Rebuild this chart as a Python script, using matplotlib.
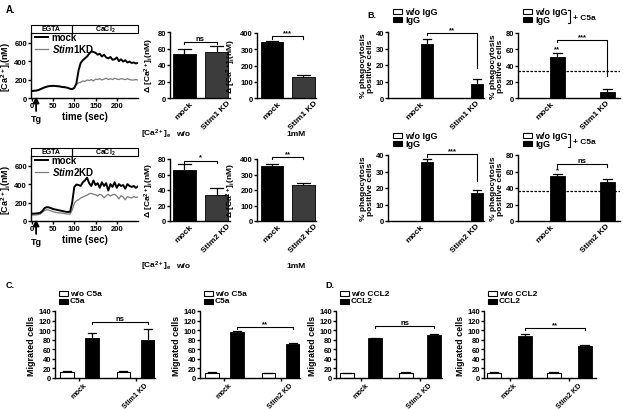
import matplotlib
matplotlib.use('Agg')
import matplotlib.pyplot as plt
from matplotlib.patches import Rectangle
from matplotlib.lines import Line2D
import matplotlib.transforms as mtransforms

# ---------------- data ----------------
t_sec = [0, 5, 10, 15, 20, 25, 30, 35, 40, 45, 50, 55, 60, 65, 70, 75, 80, 85, 90, 95,
         100, 105, 110, 115, 120, 125, 130, 135, 140, 145, 150, 155, 160, 165, 170, 175,
         180, 185, 190, 195, 200, 205, 210, 215, 220, 225, 230, 235, 240, 245, 250]
stim1_mock_trace = [75, 78, 80, 85, 95, 105, 115, 122, 128, 130, 132, 130, 128, 125, 120, 118,
                    115, 110, 100, 95, 110, 160, 300, 380, 410, 430, 450, 480, 505, 500, 490,
                    470, 480, 450, 470, 440, 430, 445, 415, 420, 440, 400, 420, 395, 410, 385,
                    395, 380, 385, 375, 380]
stim1_kd_trace = [80, 82, 82, 88, 98, 108, 118, 125, 128, 132, 135, 133, 130, 130, 125, 122,
                  115, 108, 100, 98, 115, 145, 165, 170, 185, 180, 195, 190, 200, 185, 205,
                  200, 210, 195, 205, 215, 200, 210, 200, 215, 205, 200, 210, 205, 200, 210,
                  200, 195, 195, 200, 195]
stim2_mock_trace = [80, 80, 82, 85, 90, 110, 140, 150, 148, 140, 130, 125, 120, 115, 110, 105,
                    100, 98, 100, 200, 370, 395, 390, 380, 420, 440, 470, 410, 380, 440, 390,
                    410, 360, 420, 380, 410, 330, 400, 370, 420, 360, 400, 380, 390, 350, 400,
                    380, 370, 380, 360, 375]
stim2_kd_trace = [65, 65, 66, 68, 75, 95, 115, 122, 118, 110, 100, 95, 90, 88, 85, 82, 78, 75,
                  75, 120, 190, 220, 230, 250, 260, 270, 280, 295, 300, 290, 285, 270, 290, 280,
                  250, 275, 290, 270, 285, 290, 270, 240, 275, 260, 230, 265, 255, 250, 265,
                  255, 260]

groups_stim1 = ['mock', 'Stim1 KD']
groups_stim2 = ['mock', 'Stim2 KD']

a1_wo = [53, 56];      a1_wo_err = [7, 7]
a1_1mm = [343, 128];   a1_1mm_err = [6, 15]
a2_wo = [66, 34];      a2_wo_err = [7, 8.5]
a2_1mm = [352, 230];   a2_1mm_err = [15, 15]

b1_woigg = [0, 0];     b1_igg = [33, 8.5];     b1_igg_err = [2.5, 3]
b1c_woigg = [0, 0];    b1c_igg = [51, 8];      b1c_igg_err = [5, 3];   b1c_ref = 33
b2_woigg = [0, 0];     b2_igg = [36, 17];      b2_igg_err = [1.5, 2]
b2c_woigg = [0, 0];    b2c_igg = [55, 47];     b2c_igg_err = [2.5, 4]; b2c_ref = 36

c1_wo = [13, 13];  c1_wo_err = [1, 1];  c1_c5a = [83, 80];  c1_c5a_err = [11, 22]
c2_wo = [11, 10];  c2_wo_err = [1, 1];  c2_c5a = [97, 72];  c2_c5a_err = [2, 2]
d1_wo = [10, 10];  d1_wo_err = [1, 2];  d1_ccl2 = [83, 90]; d1_ccl2_err = [1, 2]
d2_wo = [10, 10];  d2_wo_err = [2, 3];  d2_ccl2 = [87, 67]; d2_ccl2_err = [4, 2]

# ---------------- style ----------------
W, H = 623, 410
plt.rcParams.update({
    'font.family': ['Liberation Sans', 'DejaVu Sans'],
    'font.weight': 'bold',
    'axes.labelweight': 'bold',
    'mathtext.fontset': 'custom',
    'mathtext.rm': 'Liberation Sans:bold',
    'mathtext.it': 'Liberation Sans:italic:bold',
    'mathtext.bf': 'Liberation Sans:bold',
    'axes.linewidth': 1.0,
    'xtick.major.width': 1.0, 'ytick.major.width': 1.0,
    'xtick.major.size': 2.0, 'ytick.major.size': 2.0,
    'xtick.labelsize': 5.5, 'ytick.labelsize': 5.5,
    'xtick.major.pad': 1.0, 'ytick.major.pad': 0.8,
})
fig = plt.figure(figsize=(W / 100, H / 100), dpi=100)


def add_ax(l, t, r, b):
    ax = fig.add_axes([l / W, 1 - b / H, (r - l) / W, (b - t) / H])
    ax.spines['top'].set_visible(False)
    ax.spines['right'].set_visible(False)
    ax.patch.set_alpha(0)
    return ax


def ftext(x, y, s, **kw):
    kw.setdefault('va', 'center')
    kw.setdefault('ha', 'left')
    fig.text(x / W, 1 - y / H, s, **kw)


def fbox(x, y, w, h, fc):
    fig.add_artist(Rectangle((x / W, 1 - (y + h) / H), w / W, h / H, fc=fc, ec='black',
                             lw=0.8, transform=fig.transFigure))


def fline(xs, ys, lw=0.8):
    fig.add_artist(Line2D([x / W for x in xs], [1 - y / H for y in ys],
                          transform=fig.transFigure, color='black', lw=lw))


def errs(ax, xs, vals, err, hw, lw=0.9):
    for x, v, e in zip(xs, vals, err):
        ax.plot([x, x], [v, v + e], color='black', lw=lw, solid_capstyle='butt', zorder=3)
        ax.plot([x - hw, x + hw], [v + e, v + e], color='black', lw=lw, zorder=3)


def bracket(ax, x1, x2, y, yl, yr, label, fs=5.5):
    ax.plot([x1, x1, x2, x2], [yl, y, y, yr], color='black', lw=0.8, clip_on=False)
    ax.text((x1 + x2) / 2, y, label, ha='center', va='bottom', fontsize=fs, clip_on=False)


def cat_labels(ax, ticks, labels, fs=6):
    ax.set_xticks(ticks)
    ax.set_xticklabels(labels, rotation=45, ha='center', fontsize=fs)


# ---------------- panel A traces ----------------
def trace_panel(l, t, r, b, mock, kd, kdname):
    ax = add_ax(l, t, r, b)
    ax.plot(t_sec, kd, color='#7a7a7a', lw=0.9, label=r'$\mathit{' + kdname + r'}$KD', zorder=2)
    ax.plot(t_sec, mock, color='black', lw=1.4, label='mock', zorder=3)
    ax.set_xlim(-2, 250)
    ax.set_ylim(0, 705)
    ax.set_xticks([0, 50, 100, 150, 200])
    ax.set_yticks([0, 200, 400, 600])
    ax.set_ylabel(r'[Ca$^{2+}$]$_\mathrm{i}$(nM)', fontsize=6.5, labelpad=1)
    ax.set_xlabel('time (sec)', fontsize=7, labelpad=1)
    h, lb = ax.get_legend_handles_labels()
    ax.legend(h[::-1], lb[::-1], loc='upper left', bbox_to_anchor=(0.03, 1.03), frameon=False,
              fontsize=7, handlelength=1.3, handletextpad=0.4, labelspacing=0.0,
              borderaxespad=0.0, borderpad=0.1)
    tr = mtransforms.blended_transform_factory(ax.transData, ax.transAxes)
    ax.add_patch(Rectangle((-2, 1.0), 96, 0.13, transform=tr, fill=False, lw=0.8, clip_on=False))
    ax.add_patch(Rectangle((94, 1.0), 156, 0.13, transform=tr, fill=False, lw=0.8, clip_on=False))
    ax.text(46, 1.065, 'EGTA', transform=tr, ha='center', va='center', fontsize=5)
    ax.text(172, 1.065, r'CaCl$_2$', transform=tr, ha='center', va='center', fontsize=5)
    ax.annotate('', xy=(10, 0.02), xycoords=tr, xytext=(10, -0.2), textcoords=tr,
                arrowprops=dict(arrowstyle='-|>,head_width=0.18,head_length=0.35', lw=1.3,
                                color='black', shrinkA=0, shrinkB=0))
    ax.text(10, -0.24, 'Tg', transform=tr, ha='center', va='top', fontsize=6.5)
    return ax


trace_panel(31, 34, 138, 99, stim1_mock_trace, stim1_kd_trace, 'Stim1')
trace_panel(31, 157, 138, 222, stim2_mock_trace, stim2_kd_trace, 'Stim2')
ftext(6, 10, 'A.', fontsize=7)


# ---------------- panel A bars ----------------
def a_bar(l, t, r, b, vals, err, ylim, yticks, xlim, sig, sig_y, leg_l, leg_r, labels):
    ax = add_ax(l, t, r, b)
    x = [0, 1]
    ax.bar(x, vals, width=0.72, color=['black', '#3c3c3c'], edgecolor='black', lw=0.6, zorder=2)
    errs(ax, x, vals, err, 0.2)
    ax.set_xlim(*xlim)
    ax.set_ylim(*ylim)
    ax.set_yticks(yticks)
    cat_labels(ax, x, labels)
    ax.tick_params(axis='x', length=0)
    bracket(ax, 0, 1, sig_y, leg_l, leg_r, sig)
    ax.set_ylabel(r'$\Delta$ [Ca$^{2+}$]$_\mathrm{i}$(nM)', fontsize=6, labelpad=1.5)
    return ax


a_bar(170, 33, 230, 99, a1_wo, a1_wo_err, (0, 80), [0, 20, 40, 60, 80], (-0.45, 1.42),
      'ns', 68, 65, 65, groups_stim1)
a_bar(257, 34, 316, 99, a1_1mm, a1_1mm_err, (0, 400), [0, 100, 200, 300, 400], (-0.48, 1.40),
      '***', 380, 365, 365, groups_stim1)
a_bar(170, 160, 230, 222, a2_wo, a2_wo_err, (0, 80), [0, 20, 40, 60, 80], (-0.45, 1.42),
      '*', 78, 75, 75, groups_stim2)
a_bar(257, 160, 316, 222, a2_1mm, a2_1mm_err, (0, 400), [0, 100, 200, 300, 400], (-0.48, 1.40),
      '**', 412, 398, 398, groups_stim2)
for yy in (134, 266):
    ftext(141, yy, r'[Ca$^{2+}$]$_\mathrm{e}$', fontsize=6)
    ftext(183, yy, 'w/o', fontsize=6, ha='center')
    ftext(296, yy, '1mM', fontsize=6, ha='center')


# ---------------- panel B ----------------
def b_bar(l, t, r, b, wo, igg, err, ylim, yticks, xlim, width, labels, sig, sig_y, leg_l, leg_r,
          star=None, ref=None):
    ax = add_ax(l, t, r, b)
    g = [0, 1]
    ax.bar([v - 0.24 for v in g], wo, width=width, color='white', edgecolor='black', lw=0.6, zorder=2)
    ax.bar([v + 0.24 for v in g], igg, width=width, color='black', edgecolor='black', lw=0.6, zorder=2)
    errs(ax, [v + 0.24 for v in g], igg, err, width * 0.3)
    ax.set_xlim(*xlim)
    ax.set_ylim(*ylim)
    ax.set_yticks(yticks)
    cat_labels(ax, g, labels)
    ax.tick_params(axis='x', length=0)
    bracket(ax, 0.24, 1.24, sig_y, leg_l, leg_r, sig)
    if star:
        ax.text(0.24, igg[0] + err[0], star, ha='center', va='bottom', fontsize=5.5)
    if ref is not None:
        ax.axhline(ref, color='black', lw=0.9, ls=(0, (2, 1.2)), zorder=1)
    ax.set_ylabel('% phagocytosis\npositive cells', fontsize=6, labelpad=1.5, linespacing=1.0)
    return ax


b_bar(388, 33, 484, 99, b1_woigg, b1_igg, b1_igg_err, (0, 40), [0, 10, 20, 30, 40], (-0.54, 1.38),
      0.24, groups_stim1, '**', 39.5, 38, 18)
b_bar(518, 34, 620, 99, b1c_woigg, b1c_igg, b1c_igg_err, (0, 80), [0, 20, 40, 60, 80], (-0.54, 1.5),
      0.3, groups_stim1, '***', 71, 68.5, 27, star='**', ref=b1c_ref)
b_bar(388, 156, 484, 222, b2_woigg, b2_igg, b2_igg_err, (0, 40), [0, 10, 20, 30, 40], (-0.54, 1.38),
      0.24, groups_stim2, '***', 40.4, 38.8, 24)
b_bar(518, 156, 620, 222, b2c_woigg, b2c_igg, b2c_igg_err, (0, 80), [0, 20, 40, 60, 80], (-0.54, 1.5),
      0.3, groups_stim2, 'ns', 68.5, 66, 66, star='*', ref=b2c_ref)
ftext(367, 15, 'B.', fontsize=6.5)
for (x0, y0, c5a) in [(393, 10, False), (523, 10, True), (393, 134, False), (523, 134, True)]:
    fbox(x0, y0, 9, 5, 'white')
    fbox(x0, y0 + 8, 9, 5, 'black')
    ftext(x0 + 12, y0 + 2.5, 'w/o IgG', fontsize=6.5)
    ftext(x0 + 12, y0 + 10.5, 'IgG', fontsize=6.5)
    if c5a:
        fline([x0 + 45, x0 + 47, x0 + 47, x0 + 45], [y0 + 1, y0 + 1, y0 + 14, y0 + 14])
        ftext(x0 + 50, y0 + 8.5, '+ C5a', fontsize=6)


# ---------------- panels C & D ----------------
def cd_bar(l, t, r, b, wo, wo_err, st, st_err, xlim, off, width, labels, sig, sig_y, leg):
    ax = add_ax(l, t, r, b)
    g = [0, 1]
    xw = [v - off for v in g]
    xb = [v + off for v in g]
    ax.bar(xw, wo, width=width, color='white', edgecolor='black', lw=0.8, zorder=2)
    ax.bar(xb, st, width=width, color='black', edgecolor='black', lw=0.6, zorder=2)
    errs(ax, xw, wo, wo_err, width * 0.3)
    errs(ax, xb, st, st_err, width * 0.3)
    ax.set_xlim(*xlim)
    ax.set_ylim(0, 140)
    ax.set_yticks(range(0, 141, 20))
    cat_labels(ax, g, labels, fs=5.2)
    ax.tick_params(axis='x', pad=0.5)
    bracket(ax, xb[0], xb[1], sig_y, sig_y - 4, sig_y - 4, sig)
    ax.set_ylabel('Migrated cells', fontsize=6.5, labelpad=1.5)
    fbox(l + 4, 292, 9, 5, 'white')
    fbox(l + 4, 299.5, 9, 5, 'black')
    ftext(l + 15, 294.5, 'w/o ' + leg, fontsize=6)
    ftext(l + 15, 302, leg, fontsize=6)
    return ax


cd_bar(55, 312, 155, 379, c1_wo, c1_wo_err, c1_c5a, c1_c5a_err, (-0.43, 1.34), 0.22, 0.24,
       groups_stim1, 'ns', 117, 'C5a')
cd_bar(200, 312, 300, 379, c2_wo, c2_wo_err, c2_c5a, c2_c5a_err, (-0.43, 1.34), 0.22, 0.24,
       groups_stim2, '**', 106, 'C5a')
cd_bar(336, 312, 442, 379, d1_wo, d1_wo_err, d1_ccl2, d1_ccl2_err, (-0.43, 1.38), 0.24, 0.24,
       groups_stim1, 'ns', 108, 'CCL2')
cd_bar(484, 312, 596, 379, d2_wo, d2_wo_err, d2_ccl2, d2_ccl2_err, (-0.43, 1.45), 0.26, 0.24,
       groups_stim2, '**', 104, 'CCL2')
ftext(6, 286, 'C.', fontsize=6.5)
ftext(325, 286, 'D.', fontsize=6.5)

fig.savefig('out.png', dpi=100)
